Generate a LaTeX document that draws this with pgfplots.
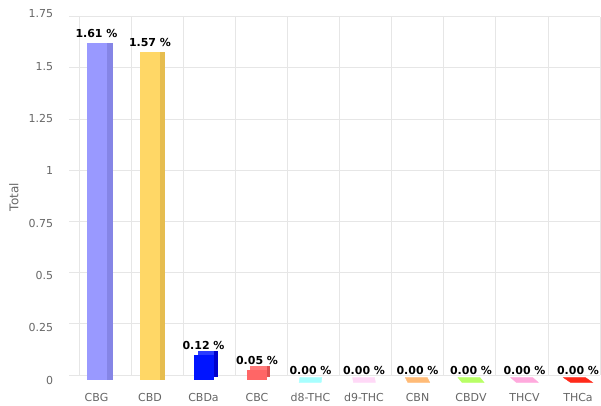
\documentclass[border=0pt]{standalone}
\usepackage{pgfplots}
\pgfplotsset{compat=1.18}
\usepackage{fontspec}
\setmainfont{DejaVu Sans}
\definecolor{gridc}{HTML}{E6E6E6}
\definecolor{tickc}{HTML}{666666}
\definecolor{cbg}{HTML}{9999FF}\definecolor{cbgs}{HTML}{8585E6}
\definecolor{cbd}{HTML}{FFD766}\definecolor{cbds}{HTML}{E6BD4F}
\definecolor{cbda}{HTML}{0014FF}\definecolor{cbdas}{HTML}{0000CC}\definecolor{cbdat}{HTML}{2A3BFF}
\definecolor{cbc}{HTML}{FF6666}\definecolor{cbcs}{HTML}{DD5050}\definecolor{cbct}{HTML}{FF7A7A}
\definecolor{deight}{HTML}{A8FFFF}
\definecolor{dnine}{HTML}{FFD9F7}
\definecolor{cbn}{HTML}{FFBB77}
\definecolor{cbdv}{HTML}{B8FF66}
\definecolor{thcv}{HTML}{FFAADD}
\definecolor{thca}{HTML}{FF2A1A}
\begin{document}
\begin{tikzpicture}[x=1pt,y=1pt]
\path[use as bounding box] (0,0) rectangle (601,405);
% back wall grid
\begin{axis}[at={(79pt,30pt)}, anchor=south west, scale only axis,
  width=521pt, height=358.3pt, xmin=0, xmax=10, ymin=0, ymax=1.75,
  xtick={0,1,2,3,4,5,6,7,8,9,10}, ytick={0,0.25,0.5,0.75,1,1.25,1.5,1.75},
  xticklabels={}, yticklabels={}, grid=major,
  grid style={gridc, line width=0.8pt},
  axis line style={draw=none},
  xtick style={draw=none},
  ytick style={gridc, line width=0.8pt},
  ytick pos=left, tick align=outside, major tick length=10pt]
\end{axis}
% front plane with bars
\begin{axis}[at={(69.75pt,25pt)}, anchor=south west, scale only axis,
  width=535pt, height=366pt, xmin=-0.5, xmax=9.5, ymin=0, ymax=1.75,
  clip=false,
  axis line style={draw=none}, tick style={draw=none},
  xtick={0,1,2,3,4,5,6,7,8,9},
  xticklabels={CBG,CBD,CBDa,CBC,d8-THC,d9-THC,CBN,CBDV,THCV,THCa},
  ytick={0,0.25,0.5,0.75,1,1.25,1.5,1.75},
  yticklabels={0,0.25,0.5,0.75,1,1.25,1.5,1.75},
  tick label style={font=\fontsize{11}{13}\selectfont, text=tickc, inner sep=0pt},
  xticklabel style={anchor=base, yshift=-21pt},
  yticklabel style={anchor=east, xshift=-16.5pt},
  ylabel={Total},
  ylabel style={at={(axis description cs:-0.1042,0.5)}, anchor=center, rotate=0,
    inner sep=0pt, font=\fontsize{12}{14}\selectfont, text=tickc},
  nodes near coords={\pgfmathprintnumber[fixed,fixed zerofill,precision=2,assume math mode=true]{\pgfplotspointmeta}~\%},
  every node near coord/.append style={font=\bfseries\fontsize{11}{13}\selectfont, text=black, anchor=south, inner sep=0pt, yshift=5pt},
  ]
% side faces of tall bars
\addplot[ybar, bar width=20pt, bar shift=6.5pt, fill=cbgs, draw=none, nodes near coords={}] coordinates {(0,1.61)};
\addplot[ybar, bar width=20pt, bar shift=5pt, fill=cbds, draw=none, nodes near coords={}] coordinates {(1,1.57)};
% top and side faces of short bars
\addplot[ybar, bar width=20pt, bar shift=4pt, yshift=3.5pt, fill=cbdat, draw=none, nodes near coords={}] coordinates {(2,0.12)};
\addplot[ybar, bar width=4pt, bar shift=12pt, yshift=3.5pt, fill=cbdas, draw=none, nodes near coords={}] coordinates {(2,0.12)};
\addplot[ybar, bar width=20pt, bar shift=2.5pt, yshift=3.5pt, fill=cbct, draw=none, nodes near coords={}] coordinates {(3,0.05)};
\addplot[ybar, bar width=2.5pt, bar shift=11.25pt, yshift=3.5pt, fill=cbcs, draw=none, nodes near coords={}] coordinates {(3,0.05)};
% front faces
\addplot[ybar, bar width=20pt, bar shift=0pt, fill=cbg, draw=none] coordinates {(0,1.61)};
\addplot[ybar, bar width=20pt, bar shift=0pt, fill=cbd, draw=none] coordinates {(1,1.57)};
\addplot[ybar, bar width=20pt, bar shift=0pt, fill=cbda, draw=none] coordinates {(2,0.12)};
\addplot[ybar, bar width=20pt, bar shift=0pt, fill=cbc, draw=none] coordinates {(3,0.05)};
% zero-height bars (top faces only)
\addplot[only marks, color=deight, mark=square*, mark size=11pt, mark options={draw=none, fill=deight, xslant=0.14, yscale=0.23}] coordinates {(4,0)};
\addplot[only marks, color=dnine, mark=square*, mark size=11pt, mark options={draw=none, fill=dnine, xslant=-0.18, yscale=0.23}] coordinates {(5,0)};
\addplot[only marks, color=cbn, mark=square*, mark size=11pt, mark options={draw=none, fill=cbn, xslant=-0.5, yscale=0.23}] coordinates {(6,0)};
\addplot[only marks, color=cbdv, mark=square*, mark size=11pt, mark options={draw=none, fill=cbdv, xslant=-0.82, yscale=0.23}] coordinates {(7,0)};
\addplot[only marks, color=thcv, mark=square*, mark size=11pt, mark options={draw=none, fill=thcv, xslant=-1.14, yscale=0.23}] coordinates {(8,0)};
\addplot[only marks, color=thca, mark=square*, mark size=11pt, mark options={draw=none, fill=thca, xslant=-1.46, yscale=0.23}] coordinates {(9,0)};
\end{axis}
\end{tikzpicture}
\end{document}
